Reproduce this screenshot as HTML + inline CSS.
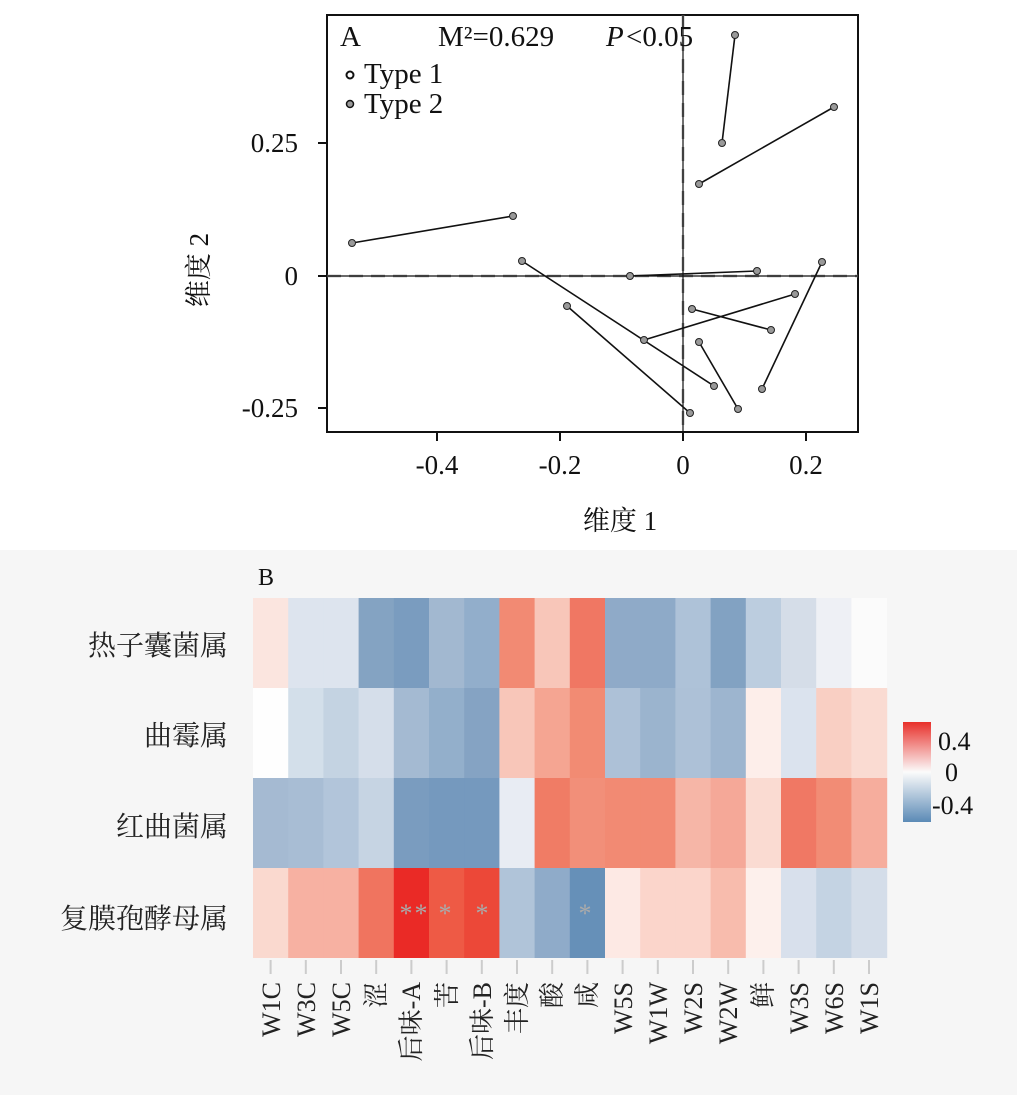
<!DOCTYPE html>
<html><head><meta charset="utf-8"><style>
body{margin:0;background:#fff;width:1017px;height:1100px;overflow:hidden}
</style></head><body>
<svg width="1017" height="1100" xmlns="http://www.w3.org/2000/svg" font-family="'Liberation Serif','Noto Serif CJK SC',serif">
<rect x="0" y="550" width="1017" height="545" fill="#f6f6f6"/>
<rect x="327" y="15" width="531" height="417" fill="#fff" stroke="#111" stroke-width="2"/>
<line x1="327" y1="276" x2="858" y2="276" stroke="#888" stroke-width="2.5" stroke-dasharray="14,8"/>
<line x1="327" y1="276" x2="858" y2="276" stroke="#111" stroke-width="1.2"/>
<line x1="683" y1="15" x2="683" y2="432" stroke="#888" stroke-width="2.5" stroke-dasharray="14,8"/>
<line x1="683" y1="15" x2="683" y2="432" stroke="#111" stroke-width="1.2"/>
<g stroke="#111" stroke-width="1.6">
<line x1="735" y1="35" x2="722" y2="143"/><line x1="834" y1="107" x2="699" y2="184"/>
<line x1="352" y1="243" x2="513" y2="216"/><line x1="522" y1="261" x2="714" y2="386"/>
<line x1="567" y1="306" x2="690" y2="413"/><line x1="630" y1="276" x2="757" y2="271"/>
<line x1="692" y1="309" x2="771" y2="330"/><line x1="644" y1="340" x2="795" y2="294"/>
<line x1="699" y1="342" x2="738" y2="409"/><line x1="762" y1="389" x2="822" y2="262"/>
</g>
<g fill="#999" stroke="#222" stroke-width="1">
<circle cx="735" cy="35" r="3.5"/><circle cx="722" cy="143" r="3.5"/><circle cx="834" cy="107" r="3.5"/><circle cx="699" cy="184" r="3.5"/>
<circle cx="352" cy="243" r="3.5"/><circle cx="513" cy="216" r="3.5"/><circle cx="522" cy="261" r="3.5"/><circle cx="714" cy="386" r="3.5"/>
<circle cx="567" cy="306" r="3.5"/><circle cx="690" cy="413" r="3.5"/><circle cx="630" cy="276" r="3.5"/><circle cx="757" cy="271" r="3.5"/>
<circle cx="692" cy="309" r="3.5"/><circle cx="771" cy="330" r="3.5"/><circle cx="644" cy="340" r="3.5"/><circle cx="795" cy="294" r="3.5"/>
<circle cx="699" cy="342" r="3.5"/><circle cx="738" cy="409" r="3.5"/><circle cx="762" cy="389" r="3.5"/><circle cx="822" cy="262" r="3.5"/>
</g>
<g font-size="29" fill="#111">
<text x="340" y="46">A</text>
<text x="438" y="46">M²=0.629</text><text x="606" y="46" font-style="italic">P</text><text x="626" y="46">&lt;0.05</text>
<text x="364" y="83">Type 1</text><text x="364" y="113">Type 2</text>
</g>
<circle cx="350" cy="75" r="3.5" fill="#fff" stroke="#111" stroke-width="2"/>
<circle cx="350" cy="104" r="3.5" fill="#999" stroke="#111" stroke-width="1.5"/>
<g stroke="#111" stroke-width="2">
<line x1="318" y1="143" x2="327" y2="143"/><line x1="318" y1="276" x2="327" y2="276"/><line x1="318" y1="408" x2="327" y2="408"/>
<line x1="437" y1="432" x2="437" y2="441"/><line x1="560" y1="432" x2="560" y2="441"/><line x1="683" y1="432" x2="683" y2="441"/><line x1="806" y1="432" x2="806" y2="441"/>
</g>
<g font-size="27" fill="#111" text-anchor="end">
<text x="298" y="152">0.25</text><text x="298" y="285">0</text><text x="298" y="417">-0.25</text>
</g>
<g font-size="27" fill="#111" text-anchor="middle">
<text x="437" y="474">-0.4</text><text x="560" y="474">-0.2</text><text x="683" y="474">0</text><text x="806" y="474">0.2</text>
<text x="620" y="530">维度 1</text>
<text transform="translate(208,270) rotate(-90)">维度 2</text>
</g>
<text x="258" y="585" font-size="24" fill="#111">B</text>
<g transform="translate(0,598)">
<rect x="253" width="35.8" height="90.6" fill="#fbe5df"/><rect x="288.2" width="35.8" height="90.6" fill="#dde4ee"/><rect x="323.4" width="35.8" height="90.6" fill="#dde4ee"/><rect x="358.6" width="35.8" height="90.6" fill="#84a3c2"/><rect x="393.8" width="35.8" height="90.6" fill="#7a9cbf"/><rect x="429" width="35.8" height="90.6" fill="#a2b8d0"/><rect x="464.2" width="35.8" height="90.6" fill="#92aecb"/><rect x="499.4" width="35.8" height="90.6" fill="#f28a73"/><rect x="534.6" width="35.8" height="90.6" fill="#f8c6b9"/><rect x="569.8" width="35.8" height="90.6" fill="#f07763"/><rect x="605" width="35.8" height="90.6" fill="#8faac8"/><rect x="640.2" width="35.8" height="90.6" fill="#8eaac8"/><rect x="675.4" width="35.8" height="90.6" fill="#aec2d8"/><rect x="710.6" width="35.8" height="90.6" fill="#82a2c2"/><rect x="745.8" width="35.8" height="90.6" fill="#bccddf"/><rect x="781" width="35.8" height="90.6" fill="#d5dde8"/><rect x="816.2" width="35.8" height="90.6" fill="#eef0f5"/><rect x="851.4" width="35.8" height="90.6" fill="#fbfbfb"/>
</g>
<g transform="translate(0,688)">
<rect x="253" width="35.8" height="90.6" fill="#fefefe"/><rect x="288.2" width="35.8" height="90.6" fill="#d3dfea"/><rect x="323.4" width="35.8" height="90.6" fill="#c4d3e2"/><rect x="358.6" width="35.8" height="90.6" fill="#d5deea"/><rect x="393.8" width="35.8" height="90.6" fill="#a4bad2"/><rect x="429" width="35.8" height="90.6" fill="#93afcb"/><rect x="464.2" width="35.8" height="90.6" fill="#85a3c3"/><rect x="499.4" width="35.8" height="90.6" fill="#f8c6b9"/><rect x="534.6" width="35.8" height="90.6" fill="#f5a592"/><rect x="569.8" width="35.8" height="90.6" fill="#f28b73"/><rect x="605" width="35.8" height="90.6" fill="#adc1d7"/><rect x="640.2" width="35.8" height="90.6" fill="#9bb4ce"/><rect x="675.4" width="35.8" height="90.6" fill="#adc1d7"/><rect x="710.6" width="35.8" height="90.6" fill="#9db5cf"/><rect x="745.8" width="35.8" height="90.6" fill="#fdeeea"/><rect x="781" width="35.8" height="90.6" fill="#dbe3ee"/><rect x="816.2" width="35.8" height="90.6" fill="#f9cfc3"/><rect x="851.4" width="35.8" height="90.6" fill="#fadbd2"/>
</g>
<g transform="translate(0,778)">
<rect x="253" width="35.8" height="90.6" fill="#a5bad2"/><rect x="288.2" width="35.8" height="90.6" fill="#a8bdd4"/><rect x="323.4" width="35.8" height="90.6" fill="#b2c5da"/><rect x="358.6" width="35.8" height="90.6" fill="#c6d4e3"/><rect x="393.8" width="35.8" height="90.6" fill="#7a9cbf"/><rect x="429" width="35.8" height="90.6" fill="#7599be"/><rect x="464.2" width="35.8" height="90.6" fill="#7599be"/><rect x="499.4" width="35.8" height="90.6" fill="#e8ecf3"/><rect x="534.6" width="35.8" height="90.6" fill="#f07c65"/><rect x="569.8" width="35.8" height="90.6" fill="#f28f79"/><rect x="605" width="35.8" height="90.6" fill="#f28a73"/><rect x="640.2" width="35.8" height="90.6" fill="#f28a73"/><rect x="675.4" width="35.8" height="90.6" fill="#f6b6a7"/><rect x="710.6" width="35.8" height="90.6" fill="#f5a898"/><rect x="745.8" width="35.8" height="90.6" fill="#fadbd2"/><rect x="781" width="35.8" height="90.6" fill="#f07864"/><rect x="816.2" width="35.8" height="90.6" fill="#f28c75"/><rect x="851.4" width="35.8" height="90.6" fill="#f6ad9d"/>
</g>
<g transform="translate(0,868)">
<rect x="253" width="35.8" height="90" fill="#fad9cf"/><rect x="288.2" width="35.8" height="90" fill="#f7b1a2"/><rect x="323.4" width="35.8" height="90" fill="#f7b1a2"/><rect x="358.6" width="35.8" height="90" fill="#f0745f"/><rect x="393.8" width="35.8" height="90" fill="#ea2a26"/><rect x="429" width="35.8" height="90" fill="#ee5a45"/><rect x="464.2" width="35.8" height="90" fill="#ec4838"/><rect x="499.4" width="35.8" height="90" fill="#b0c4d9"/><rect x="534.6" width="35.8" height="90" fill="#8fabc9"/><rect x="569.8" width="35.8" height="90" fill="#6690b8"/><rect x="605" width="35.8" height="90" fill="#fde9e4"/><rect x="640.2" width="35.8" height="90" fill="#fbd5cb"/><rect x="675.4" width="35.8" height="90" fill="#fbd5cb"/><rect x="710.6" width="35.8" height="90" fill="#f8bcad"/><rect x="745.8" width="35.8" height="90" fill="#fdf0ec"/><rect x="781" width="35.8" height="90" fill="#d8e0ec"/><rect x="816.2" width="35.8" height="90" fill="#c4d3e3"/><rect x="851.4" width="35.8" height="90" fill="#d4dde9"/>
</g>
<g font-size="28" fill="#222" text-anchor="end">
<text x="228" y="655">热子囊菌属</text><text x="228" y="745">曲霉属</text><text x="228" y="836">红曲菌属</text><text x="228" y="928">复膜孢酵母属</text>
</g>
<g font-size="26" fill="#aaa" text-anchor="middle">
<text x="406" y="922">*</text><text x="421" y="922">*</text><text x="445" y="922">*</text><text x="482" y="922">*</text><text x="585" y="922">*</text>
</g>
<g stroke="#ccc" stroke-width="2">
<line x1="270.6" y1="960" x2="270.6" y2="974"/><line x1="305.8" y1="960" x2="305.8" y2="974"/><line x1="341" y1="960" x2="341" y2="974"/><line x1="376.2" y1="960" x2="376.2" y2="974"/><line x1="411.4" y1="960" x2="411.4" y2="974"/><line x1="446.6" y1="960" x2="446.6" y2="974"/><line x1="481.8" y1="960" x2="481.8" y2="974"/><line x1="517" y1="960" x2="517" y2="974"/><line x1="552.2" y1="960" x2="552.2" y2="974"/><line x1="587.4" y1="960" x2="587.4" y2="974"/><line x1="622.6" y1="960" x2="622.6" y2="974"/><line x1="657.8" y1="960" x2="657.8" y2="974"/><line x1="693" y1="960" x2="693" y2="974"/><line x1="728.2" y1="960" x2="728.2" y2="974"/><line x1="763.4" y1="960" x2="763.4" y2="974"/><line x1="798.6" y1="960" x2="798.6" y2="974"/><line x1="833.8" y1="960" x2="833.8" y2="974"/><line x1="869" y1="960" x2="869" y2="974"/>
</g>
<g font-size="26" fill="#222" text-anchor="end">
<text transform="translate(280,982) rotate(-90)">W1C</text>
<text transform="translate(315,982) rotate(-90)">W3C</text>
<text transform="translate(350,982) rotate(-90)">W5C</text>
<text transform="translate(385,982) rotate(-90)">涩</text>
<text transform="translate(420,982) rotate(-90)">后味-A</text>
<text transform="translate(456,982) rotate(-90)">苦</text>
<text transform="translate(491,982) rotate(-90)">后味-B</text>
<text transform="translate(526,982) rotate(-90)">丰度</text>
<text transform="translate(561,982) rotate(-90)">酸</text>
<text transform="translate(596,982) rotate(-90)">咸</text>
<text transform="translate(632,982) rotate(-90)">W5S</text>
<text transform="translate(667,982) rotate(-90)">W1W</text>
<text transform="translate(702,982) rotate(-90)">W2S</text>
<text transform="translate(737,982) rotate(-90)">W2W</text>
<text transform="translate(772,982) rotate(-90)">鲜</text>
<text transform="translate(808,982) rotate(-90)">W3S</text>
<text transform="translate(843,982) rotate(-90)">W6S</text>
<text transform="translate(878,982) rotate(-90)">W1S</text>
</g>
<defs><linearGradient id="cb" x1="0" y1="0" x2="0" y2="1">
<stop offset="0" stop-color="#e8302a"/><stop offset="0.5" stop-color="#fbfbfb"/><stop offset="1" stop-color="#5b8ab6"/></linearGradient></defs>
<rect x="903" y="722" width="28" height="100" fill="url(#cb)"/>
<g font-size="26" fill="#111">
<text x="938" y="750">0.4</text><text x="945" y="781">0</text><text x="932" y="814">-0.4</text>
</g>
</svg>
</body></html>
